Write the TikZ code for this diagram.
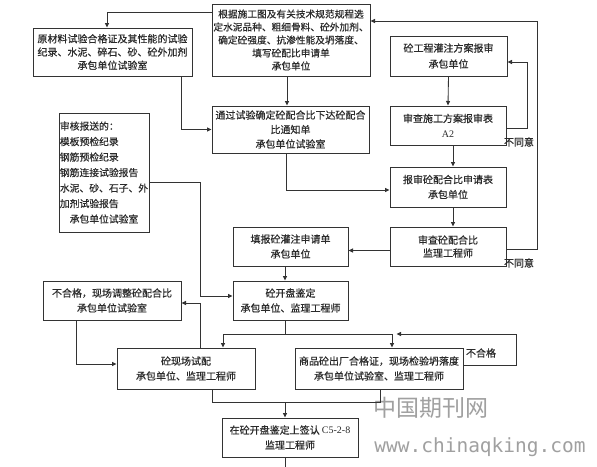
\documentclass[tikz,border=0pt]{standalone}
\usepackage{fontspec}
\setmainfont{Liberation Serif}
\newfontfamily\cjk[FakeBold=0.4]{Noto Sans CJK SC}
\newfontfamily\wmcjk{Noto Sans CJK SC}
\newfontfamily\wmmono{DejaVu Sans Mono}
\usetikzlibrary{arrows.meta,calc}
\definecolor{ln}{HTML}{333333}
\definecolor{tx}{HTML}{2A2A2A}
\definecolor{wm}{HTML}{A0A0A0}
\tikzset{
  box/.style={draw=ln, line width=1pt, rectangle, align=center, inner sep=0pt, text=tx,
              font=\cjk\fontsize{10}{15}\selectfont},
  conn/.style={draw=ln, line width=0.85pt},
  arr/.style={conn, -{Triangle[length=4.5pt,width=4pt]}},
  lbl/.style={text=tx, font=\cjk\fontsize{10}{12}\selectfont, inner sep=0pt}
}
\begin{document}
\begin{tikzpicture}[x=1pt,y=-1pt]
\useasboundingbox (0,0) rectangle (597,466);
\fill[white] (0,0) rectangle (597,466);

% watermark
\node[text=wm, font=\wmcjk\fontsize{23}{23}\selectfont, inner sep=0pt] (wm1) at (431,408) {中国期刊网};
\node[text=wm, font=\wmmono\fontsize{19.5}{20}\selectfont, inner sep=0pt] (wm2) at (480,447) {www.chinaqking.com};

% boxes
\node[box, minimum width=158, minimum height=72, font=\cjk\fontsize{9.7}{13}\selectfont] (A) at (291,40)
  {根据施工图及有关技术规范规程选\\定水泥品种、粗细骨料、砼外加剂、\\确定砼强度、抗渗性能及坍落度、\\填写砼配比申请单\\承包单位};
\node[box, minimum width=159, minimum height=48, font=\cjk\fontsize{10}{13.3}\selectfont] (B) at (112.5,52)
  {原材料试验合格证及其性能的试验\\纪录、水泥、碎石、砂、砼外加剂\\承包单位试验室};
\node[box, minimum width=117, minimum height=40, font=\cjk\fontsize{10}{16}\selectfont] (C) at (448.5,56)
  {砼工程灌注方案报审\\承包单位};
\node[box, minimum width=157, minimum height=47, font=\cjk\fontsize{10}{14.5}\selectfont] (D) at (290.5,129.5)
  {通过试验确定砼配合比下达砼配合\\比通知单\\承包单位试验室};
\node[box, minimum width=116, minimum height=39] (E) at (448,125.5)
  {审查施工方案报审表\\{\rmfamily A2}};
\node[box, minimum width=116, minimum height=40] (F) at (448,187)
  {报审砼配合比申请表\\承包单位};
\node[box, minimum width=116, minimum height=39, font=\cjk\fontsize{10}{13}\selectfont] (G) at (448,246.5)
  {审查砼配合比\\监理工程师};
\node[box, minimum width=115, minimum height=39] (H) at (290.5,246.5)
  {填报砼灌注申请单\\承包单位};
\node[box, minimum width=115, minimum height=39] (I) at (290.5,300.5)
  {砼开盘鉴定\\承包单位、监理工程师};
\node[box, minimum width=90, minimum height=119, align=left, font=\cjk\fontsize{9.8}{15.5}\selectfont] (J) at (104,172.5)
  {审核报送的：\\模板预检纪录\\钢筋预检纪录\\钢筋连接试验报告\\水泥、砂、石子、外\\加剂试验报告\\\hspace*{1em}承包单位试验室};
\node[box, minimum width=138, minimum height=39] (K) at (112,300.5)
  {不合格，现场调整砼配合比\\承包单位试验室};
\node[box, minimum width=138, minimum height=41] (L) at (186,368.5)
  {砼现场试配\\承包单位、监理工程师};
\node[box, minimum width=168, minimum height=41] (M) at (379,368.5)
  {商品砼出厂合格证，现场检验坍落度\\承包单位试验室、监理工程师};
\node[box, minimum width=136, minimum height=39] (N) at (290,437.5)
  {在砼开盘鉴定上签认 {\rmfamily C5-2-8}\\监理工程师};

% labels
\node[lbl] (ny1) at (519,142) {不同意};
\node[lbl] (ny2) at (519,263) {不同意};
\node[lbl] (bh) at (481,353) {不合格};

% connectors
\draw[arr] ([yshift=-9pt]A.north west) -| ([xshift=-5.5pt]B.north);
\draw[arr] ([xshift=-4pt]A.south) -- ([xshift=-3.5pt]D.north);
\draw[arr] ([xshift=68.5pt]B.south) |- (D.west);
\draw[arr] (C.south) -- (E.north);
\draw[arr] ([yshift=-2.5pt]E.east) -- ++(21,0) |- ([yshift=-6pt]C.east);
\draw[arr] ([xshift=5pt]E.south) -- ([xshift=5pt]F.north);
\draw[arr] ([xshift=-4.5pt]D.south) |- ([yshift=-3pt]F.west);
\draw[arr] ([xshift=5pt]F.south) -- ([xshift=5pt]G.north);
\draw[arr] ([yshift=-3pt]G.east) -- ++(31,0) |- ([yshift=19pt]A.east);
\draw[arr] ([yshift=-4pt]G.west) -- ([yshift=-4pt]H.east);
\draw[arr] ([xshift=-5.5pt]H.south) -- ([xshift=-5.5pt]I.north);
\coordinate (jv) at (200,182);
\draw[arr] ([yshift=-9.5pt]J.east) -- (jv) |- ([yshift=4.5pt]I.west);
\draw[arr] ([xshift=14pt]L.north) |- ([yshift=-2.5pt]K.east);
\draw[arr] ([xshift=-36pt]K.south) |- ([yshift=4.5pt]L.west);
\coordinate (ij) at ($(I.south)+(-5.5,14)$);
\draw[conn] ([xshift=-5.5pt]I.south) -- (ij);
\draw[arr] (ij) -| ([xshift=37pt]L.north);
\draw[arr] (ij) -| ([xshift=13pt]M.north);
\draw[arr] ([yshift=3.5pt]M.east) -- ++(53,0) -- ++(0,-31) -- ++(-120,0);
\coordinate (nj) at ($(N.north)+(-5,-15)$);
\draw[conn] ([xshift=26pt]L.south) |- (nj);
\draw[conn] ([xshift=1pt]M.south) |- (nj);
\draw[arr] (nj) -- ([xshift=-5pt]N.north);
\coordinate (nb) at ($(N.south)+(-5,12)$);
\draw[conn] ([xshift=-5pt]N.south) -- (nb);
\end{tikzpicture}
\end{document}
